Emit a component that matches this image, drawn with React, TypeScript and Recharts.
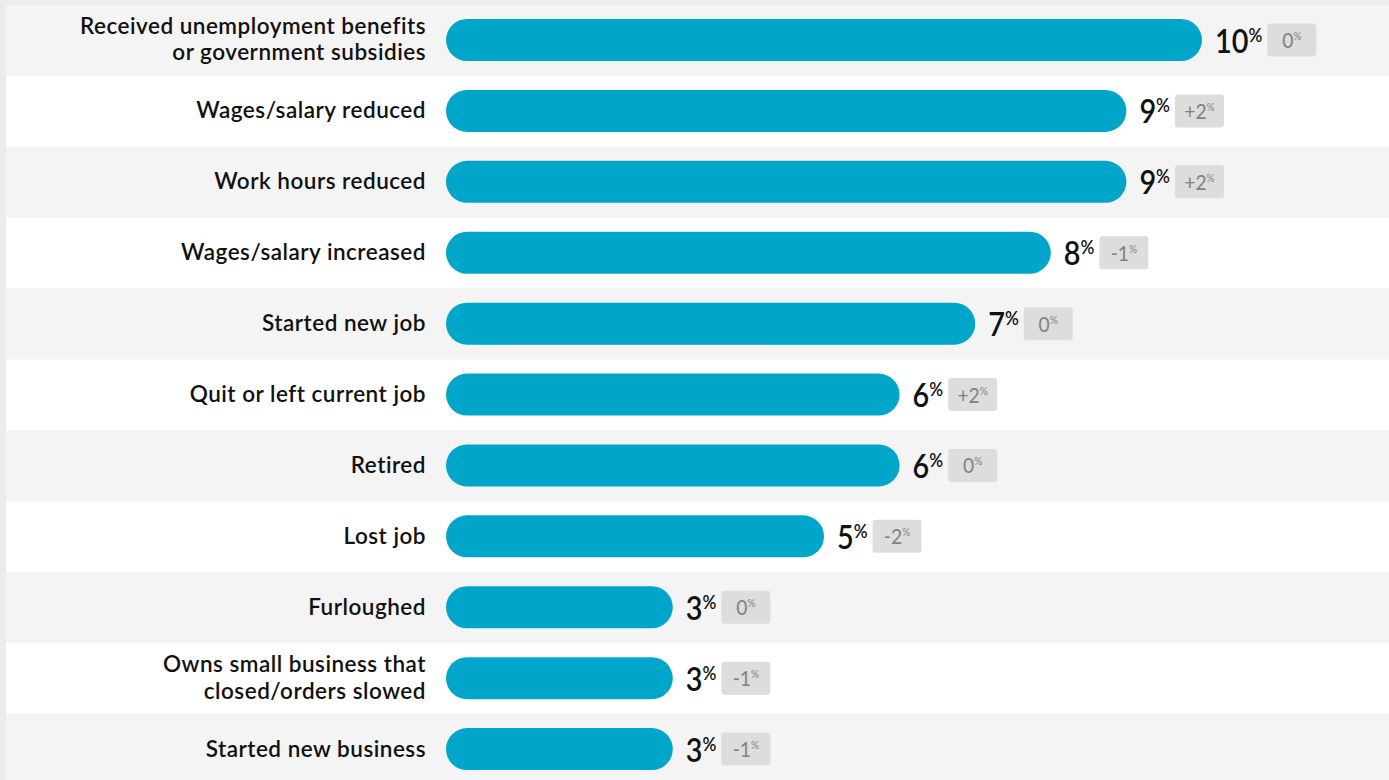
import React from "react";
import { BarChart, Bar, XAxis, YAxis, LabelList } from "recharts";

const categories = [
  "Received unemployment benefits\nor government subsidies",
  "Wages/salary reduced",
  "Work hours reduced",
  "Wages/salary increased",
  "Started new job",
  "Quit or left current job",
  "Retired",
  "Lost job",
  "Furloughed",
  "Owns small business that\nclosed/orders slowed",
  "Started new business",
];
const shares = [10, 9, 9, 8, 7, 6, 6, 5, 3, 3, 3];
const changes = [0, 2, 2, -1, 0, 2, 0, -2, 0, -1, -1];

const data = categories.map((name, i) => ({
  name,
  share: shares[i],
  change: changes[i],
}));

const WIDTH = 1383;
const HEIGHT = 780;
const ROW_H = HEIGHT / categories.length;
const BAR_COLOR = "#00A6C9";
const FONT = "Lato, 'Noto Sans', sans-serif";
const SQUEEZE = 0.9;

let ctx: CanvasRenderingContext2D | null = null;
function measure(text: string, font: string) {
  if (!ctx) ctx = document.createElement("canvas").getContext("2d");
  if (!ctx) return text.length * 18;
  ctx.font = font;
  return ctx.measureText(text).width;
}

function Stripe(props: any) {
  const { y, height } = props;
  const center = y + height / 2;
  const row = Math.floor(center / ROW_H);
  return (
    <rect
      x={0}
      y={row * ROW_H}
      width={WIDTH}
      height={ROW_H}
      fill={row % 2 === 0 ? "#f4f4f4" : "#ffffff"}
    />
  );
}

function CategoryTick(props: any) {
  const { x, y, payload } = props;
  const lines = String(payload.value).split("\n");
  const first = lines.length === 1 ? 7 : -6.5;
  return (
    <text
      textAnchor="end"
      fontFamily={FONT}
      fontWeight={600}
      fontSize={22.5}
      letterSpacing={0.5}
      fill="#111"
    >
      {lines.map((l, i) => (
        <tspan key={i} x={x} y={y + first + i * 26.5}>
          {l}
        </tspan>
      ))}
    </text>
  );
}

function ValueLabel(props: any) {
  const { x, y, width, height, index } = props;
  const v = shares[index];
  const c = changes[index];
  const cy = y + height / 2;
  const tx = x + width + 13;
  const numW =
    (measure(String(v), `600 32px ${FONT}`) + measure("%", `600 19px ${FONT}`)) *
    SQUEEZE;
  const bx = tx + numW + 5;
  const delta = c === 0 ? "0" : c > 0 ? `+${c}` : `-${Math.abs(c)}`;
  return (
    <g>
      <text
        transform={`translate(${tx},${cy + 12.5}) scale(${SQUEEZE},1)`}
        fontFamily={FONT}
        fontWeight={600}
        fontSize={32}
        fill="#111"
      >
        {v}
        <tspan fontSize={19} dy={-11}>
          %
        </tspan>
      </text>
      <rect x={bx} y={cy - 16.5} width={49} height={33} rx={3} fill="#dddddd" />
      <text
        transform={`translate(${bx + 24.5},${cy + 8}) scale(0.92,1)`}
        textAnchor="middle"
        fontFamily={FONT}
        fontSize={21}
        fill="#828282"
      >
        {delta}
        <tspan fontSize={11} dy={-8}>
          %
        </tspan>
      </text>
    </g>
  );
}

export default function App() {
  return (
    <div
      style={{
        width: 1389,
        height: 780,
        background: "#ececec",
        position: "relative",
        overflow: "hidden",
      }}
    >
      <style>{`body { margin: 0; }`}</style>
      <div style={{ position: "absolute", left: 6, top: 5 }}>
        <BarChart
          width={WIDTH}
          height={HEIGHT}
          data={data}
          layout="vertical"
          margin={{ top: 0, right: 187, bottom: 0, left: 0 }}
        >
          <Bar
            dataKey="share"
            fill={BAR_COLOR}
            barSize={42}
            radius={21}
            background={(p: any) => <Stripe key={`s-${p.index}`} {...p} />}
            isAnimationActive={false}
          >
            <LabelList dataKey="share" content={(p: any) => <ValueLabel {...p} />} />
          </Bar>
          <XAxis type="number" domain={[0, 10]} hide />
          <YAxis
            type="category"
            dataKey="name"
            width={440}
            axisLine={false}
            tickLine={false}
            tickSize={0}
            tickMargin={20}
            interval={0}
            tick={<CategoryTick />}
          />
        </BarChart>
      </div>
    </div>
  );
}
